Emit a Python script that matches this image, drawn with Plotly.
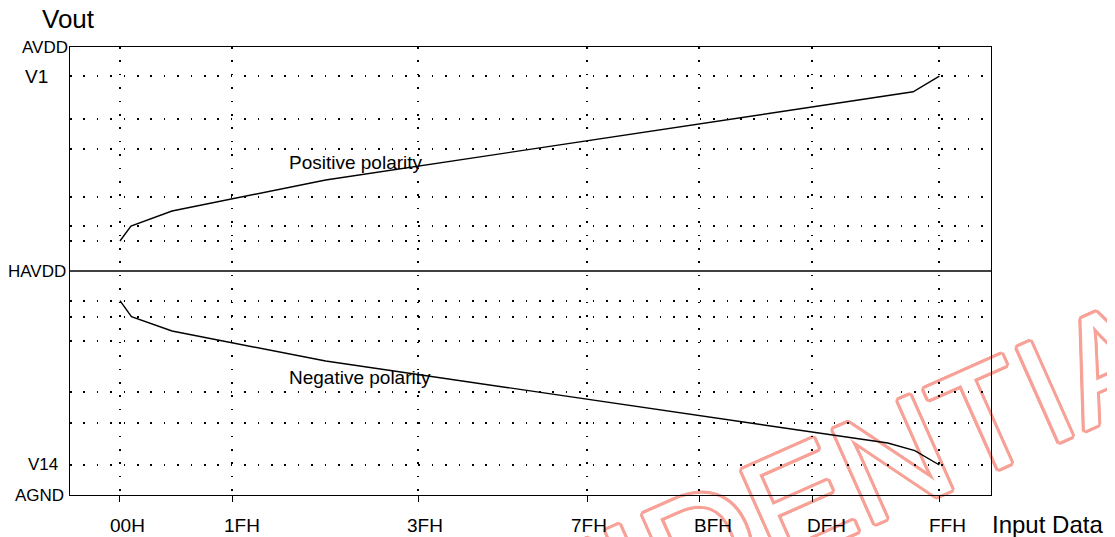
import plotly.graph_objects as go

# ---------------- data ----------------
codes = ["00H", "1FH", "3FH", "7FH", "BFH", "DFH", "FFH"]
code_pos = [0, 13.7, 36.4, 57.0, 70.7, 84.5, 100]

upper_levels = [93.5, 84.0, 77.2, 66.6, 60.0, 56.7]
lower_levels = [43.4, 39.8, 34.3, 23.1, 16.0, 6.7]
havdd_level = 50

pos_x = [0, 1.34, 6.35, 25.1, 96.8, 100]
pos_y = [56.7, 60.0, 63.4, 70.3, 90.0, 93.5]
neg_x = [0, 1.4, 6.35, 25.1, 93.7, 97.0, 100]
neg_y = [43.4, 39.8, 36.6, 29.9, 11.6, 9.9, 6.7]

rail_labels = ["AVDD", "V1", "HAVDD", "V14", "AGND"]
rail_values = [100, 93.5, 50, 6.7, 0]

# ---------------- style ----------------
FONT = "Liberation Sans, Arial, sans-serif"
rail_sizes = [17, 19, 17, 17, 17]
rail_shift = [0, -20, -2, -10, -4]
code_shift = [7.5, 10, 7, 2, 13.5, 14.5, 8.5]
RED = "#f7a197"

fig = go.Figure()
fig.add_trace(go.Scatter(x=pos_x, y=pos_y, mode="lines",
                         line=dict(color="black", width=1.4), showlegend=False))
fig.add_trace(go.Scatter(x=neg_x, y=neg_y, mode="lines",
                         line=dict(color="black", width=1.4), showlegend=False))

fig.add_shape(type="line", xref="paper", x0=0, x1=1, yref="y",
              y0=havdd_level, y1=havdd_level, line=dict(color="black", width=1.5))

ring = ", ".join(f"{dx}px {dy}px 0 {RED}" for dx, dy in
                 [(3, 0), (-3, 0), (0, 3), (0, -3), (2, 2), (-2, 2), (2, -2), (-2, -2),
                  (3, 1), (3, -1), (-3, 1), (-3, -1), (1, 3), (-1, 3), (1, -3), (-1, -3)])
# watermark drawn beneath the chart
fig.add_shape(type="rect", xref="paper", yref="paper",
              x0=0.708, x1=0.710, y0=-0.055, y1=-0.053,
              line=dict(width=0, color="rgba(0,0,0,0)"), fillcolor="rgba(0,0,0,0)",
              layer="below",
              label=dict(text="CONFIDENTIAL", textangle=-24, textposition="middle center",
                         font=dict(family="Liberation Sans, sans-serif", size=150,
                                   color="white", shadow=ring)))

annotations = []
for lab, val, sz, sh in zip(rail_labels, rail_values, rail_sizes, rail_shift):
    annotations.append(dict(text=lab, xref="paper", x=0, xanchor="right", xshift=sh,
                            yref="y", y=val, yanchor="middle", showarrow=False,
                            font=dict(family=FONT, size=sz, color="black")))
for lab, p, sh in zip(codes, code_pos, code_shift):
    annotations.append(dict(text=lab, xref="x", x=p, xanchor="center", xshift=sh,
                            yref="paper", y=-0.067, yanchor="middle", showarrow=False,
                            font=dict(family=FONT, size=19, color="black")))
annotations.append(dict(text="Vout", xref="paper", x=-0.0016, xanchor="center",
                        yref="paper", y=1.062, yanchor="middle", showarrow=False,
                        font=dict(family=FONT, size=26, color="black")))
annotations.append(dict(text="Input Data", xref="paper", x=1.0, xanchor="left", xshift=-1,
                        yref="paper", y=-0.065, yanchor="middle", showarrow=False,
                        font=dict(family=FONT, size=24, color="black")))
annotations.append(dict(text="Positive polarity", xref="x", x=20.4, xanchor="left",
                        yref="y", y=74.3, yanchor="middle", showarrow=False,
                        font=dict(family=FONT, size=19, color="black")))
annotations.append(dict(text="Negative polarity", xref="x", x=20.4, xanchor="left",
                        yref="y", y=26.3, yanchor="middle", showarrow=False,
                        font=dict(family=FONT, size=19, color="black")))

dot = "1.6px,11.8px"
fig.update_layout(
    width=1107, height=529,
    margin=dict(l=62, r=124, t=39, b=42),
    paper_bgcolor="white", plot_bgcolor="rgba(0,0,0,0)",
    annotations=annotations,
    xaxis=dict(range=[-6.10, 106.3], tickvals=code_pos, showticklabels=False,
               ticks="outside", ticklen=6, tickwidth=1, tickcolor="black",
               showgrid=True, gridcolor="black", gridwidth=1.6, griddash=dot,
               zeroline=False, showline=True, mirror=True, linecolor="black", linewidth=1.3),
    yaxis=dict(range=[0, 100], tickvals=upper_levels + lower_levels, showticklabels=False,
               ticks="", showgrid=True, gridcolor="black", gridwidth=1.6, griddash=dot,
               zeroline=False, showline=True, mirror=True, linecolor="black", linewidth=1.3),
)

fig.write_html("out.html")
